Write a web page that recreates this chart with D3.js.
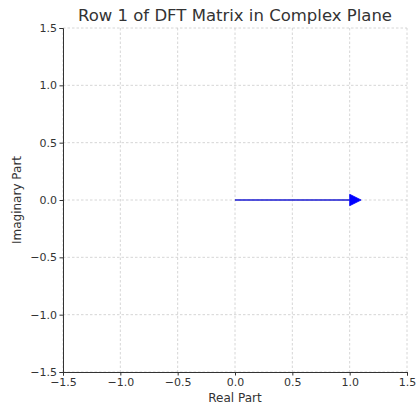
<!DOCTYPE html>
<html lang="en">
<head>
<meta charset="UTF-8">
<title>Row 1 of DFT Matrix in Complex Plane</title>
<script src="https://d3js.org/d3.v7.min.js"></script>
<style>
  body { margin: 0; background: #fff; font-family: 'DejaVu Sans', sans-serif; }
  svg { display: block; }
  .grid line { stroke: #ccc; stroke-width: 0.8; stroke-dasharray: 2.5 2; }
  .axis text { font-size: 11px; fill: #333; font-family: 'DejaVu Sans', sans-serif; }
  .axis line, .axis path { stroke: #333; }
</style>
</head>
<body>
<svg width="418" height="406"></svg>
<script>
const ticks = [-1.5, -1.0, -0.5, 0.0, 0.5, 1.0, 1.5];
const domain = [-1.5, 1.5];
// row 1 of the DFT matrix: a single entry at 1 + 0i
const points = [{ re: 1, im: 0 }];
const headLength = 0.1, headWidth = 0.05;

const svg = d3.select("svg"),
      margin = {top: 28, right: 11, bottom: 34, left: 63},
      width = +svg.attr("width") - margin.left - margin.right,
      height = +svg.attr("height") - margin.top - margin.bottom,
      g = svg.append("g").attr("transform", `translate(${margin.left},${margin.top})`);

const x = d3.scaleLinear().domain(domain).range([0, width]);
const y = d3.scaleLinear().domain(domain).range([height, 0]);
const fmt = d => d3.format(".1f")(d).replace("-", "\u2212");

// grid
g.append("g").attr("class", "grid")
  .selectAll("line").data(ticks).join("line")
  .attr("x1", d => x(d)).attr("x2", d => x(d)).attr("y1", 0).attr("y2", height);
g.append("g").attr("class", "grid")
  .selectAll("line").data(ticks).join("line")
  .attr("y1", d => y(d)).attr("y2", d => y(d)).attr("x1", 0).attr("x2", width);

// axes
g.append("g").attr("class", "axis")
  .attr("transform", `translate(0,${height})`)
  .call(d3.axisBottom(x).tickValues(ticks).tickFormat(fmt).tickSizeOuter(0).tickSize(3.5).tickPadding(2.5));
g.append("g").attr("class", "axis")
  .call(d3.axisLeft(y).tickValues(ticks).tickFormat(fmt).tickSizeOuter(0).tickSize(3.5).tickPadding(2.5));

// arrows
points.forEach(p => {
  g.append("line")
    .attr("x1", x(0)).attr("y1", y(0))
    .attr("x2", x(p.re)).attr("y2", y(p.im))
    .attr("stroke", "#1a1ad0").attr("stroke-width", 1.4);
  g.append("path")
    .attr("d", `M${x(p.re)},${y(p.im + headWidth)} L${x(p.re + headLength)},${y(p.im)} L${x(p.re)},${y(p.im - headWidth)} Z`)
    .attr("fill", "blue").attr("stroke", "blue").attr("stroke-width", 0.8);
});

// titles
svg.append("text")
  .attr("x", margin.left + width / 2).attr("y", 21)
  .attr("text-anchor", "middle")
  .attr("font-size", "16.5px").attr("fill", "#333")
  .text("Row 1 of DFT Matrix in Complex Plane");
svg.append("text")
  .attr("x", margin.left + width / 2).attr("y", 402)
  .attr("text-anchor", "middle")
  .attr("font-size", "12px").attr("fill", "#333")
  .text("Real Part");
svg.append("text")
  .attr("transform", `translate(21,${margin.top + height / 2}) rotate(-90)`)
  .attr("text-anchor", "middle")
  .attr("font-size", "12px").attr("fill", "#333")
  .text("Imaginary Part");
</script>
</body>
</html>
